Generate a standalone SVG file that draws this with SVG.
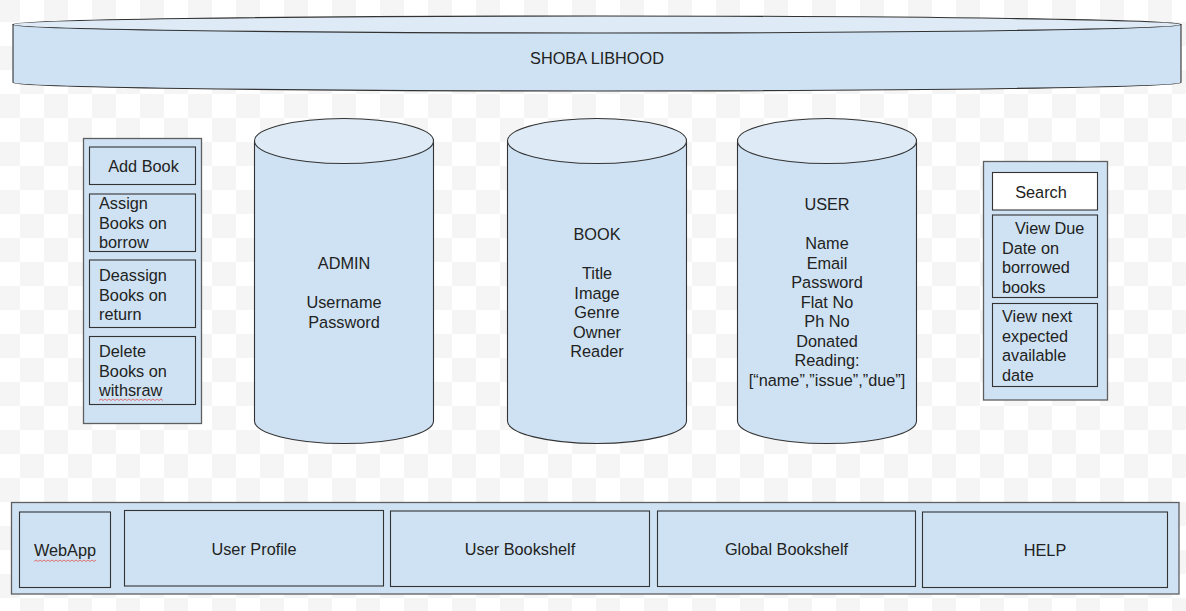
<svg xmlns="http://www.w3.org/2000/svg" width="1186" height="611" viewBox="0 0 1186 611">
<defs>
<pattern id="chk" x="-4" y="-2" width="48" height="48" patternUnits="userSpaceOnUse">
<rect width="48" height="48" fill="#ffffff"/>
<rect width="24" height="24" fill="#f5f5f5"/>
<rect x="24" y="24" width="24" height="24" fill="#f5f5f5"/>
</pattern>
</defs>
<style>
.body{fill:#cfe2f3;stroke:#333;stroke-width:1.1}
.top{fill:#deebf7;stroke:#333;stroke-width:1.1}
.panel{fill:#cfe2f3;stroke:#5f5f5f;stroke-width:1.3}
.box{fill:#cfe2f3;stroke:#333;stroke-width:1.1}
.wbox{fill:#ffffff;stroke:#333;stroke-width:1.1}
text{font-family:"Liberation Sans",Arial,sans-serif;font-size:16.3px;fill:#222}
.c{text-anchor:middle}
.sq{fill:none;stroke:#e06666;stroke-width:0.9}
</style>
<rect width="1186" height="611" fill="url(#chk)"/>

<g id="title">
<path class="body" d="M13 24.5 L13 82.5 A584 8.5 0 0 0 1181 82.5 L1181 24.5 Z"/>
<ellipse class="top" cx="597" cy="24.5" rx="584" ry="8.5"/>
<text class="c" x="597" y="64">SHOBA LIBHOOD</text>
</g>

<g id="admin-panel">
<rect class="panel" x="83.5" y="138.5" width="118" height="285"/>
<rect class="box" x="89.5" y="147" width="106" height="37.5"/>
<text class="c" x="143.5" y="172">Add Book</text>
<rect class="box" x="89.5" y="194" width="106" height="57.5"/>
<text x="99" y="209">Assign</text>
<text x="99" y="228.5">Books on</text>
<text x="99" y="248">borrow</text>
<rect class="box" x="89.5" y="260" width="106" height="67.5"/>
<text x="99" y="281">Deassign</text>
<text x="99" y="300.5">Books on</text>
<text x="99" y="320">return</text>
<rect class="box" x="89.5" y="336.5" width="106" height="68"/>
<text x="99" y="357">Delete</text>
<text x="99" y="376.5">Books on</text>
<text x="99" y="396">withsraw</text>
<path class="sq" d="M99 400.5 l2 -1.5 l2 1.5 l2 -1.5 l2 1.5 l2 -1.5 l2 1.5 l2 -1.5 l2 1.5 l2 -1.5 l2 1.5 l2 -1.5 l2 1.5 l2 -1.5 l2 1.5 l2 -1.5 l2 1.5 l2 -1.5 l2 1.5 l2 -1.5 l2 1.5 l2 -1.5 l2 1.5 l2 -1.5 l2 1.5 l2 -1.5 l2 1.5 l2 -1.5 l2 1.5 l2 -1.5 l2 1.5 l2 -1.5 l2 1.5"/>
</g>

<g id="admin">
<path class="body" d="M254.5 141 L254.5 421 A89.5 22.5 0 0 0 433.5 421 L433.5 141 Z"/>
<ellipse class="top" cx="344" cy="141" rx="89.5" ry="22.5"/>
<text class="c" x="344" y="269">ADMIN</text>
<text class="c" x="344" y="308">Username</text>
<text class="c" x="344" y="327.5">Password</text>
</g>

<g id="book">
<path class="body" d="M507.5 141 L507.5 421 A89.5 22.5 0 0 0 686.5 421 L686.5 141 Z"/>
<ellipse class="top" cx="597" cy="141" rx="89.5" ry="22.5"/>
<text class="c" x="597" y="240">BOOK</text>
<text class="c" x="597" y="279">Title</text>
<text class="c" x="597" y="298.5">Image</text>
<text class="c" x="597" y="318">Genre</text>
<text class="c" x="597" y="337.5">Owner</text>
<text class="c" x="597" y="357">Reader</text>
</g>

<g id="user">
<path class="body" d="M737.5 141 L737.5 421 A89.5 22.5 0 0 0 916.5 421 L916.5 141 Z"/>
<ellipse class="top" cx="827" cy="141" rx="89.5" ry="22.5"/>
<text class="c" x="827" y="210">USER</text>
<text class="c" x="827" y="249">Name</text>
<text class="c" x="827" y="268.5">Email</text>
<text class="c" x="827" y="288">Password</text>
<text class="c" x="827" y="307.5">Flat No</text>
<text class="c" x="827" y="327">Ph No</text>
<text class="c" x="827" y="346.5">Donated</text>
<text class="c" x="827" y="366">Reading:</text>
<text class="c" x="827" y="385.5">[“name”,”issue”,”due”]</text>
</g>

<g id="user-panel">
<rect class="panel" x="983.5" y="161.5" width="124" height="238.5"/>
<rect class="wbox" x="992.5" y="172.5" width="105" height="37.5"/>
<text class="c" x="1041" y="198">Search</text>
<rect class="box" x="992.5" y="215" width="105" height="82.5"/>
<text x="1015" y="234">View Due</text>
<text x="1002" y="253.5">Date on</text>
<text x="1002" y="273">borrowed</text>
<text x="1002" y="292.5">books</text>
<rect class="box" x="992.5" y="303.5" width="105" height="83"/>
<text x="1002" y="322">View next</text>
<text x="1002" y="341.5">expected</text>
<text x="1002" y="361">available</text>
<text x="1002" y="380.5">date</text>
</g>

<g id="nav-bar">
<rect class="panel" x="11.5" y="502.5" width="1167.5" height="91.5"/>
</g>
<g id="webapp">
<rect class="box" x="19.5" y="512" width="91" height="75.5"/>
<text class="c" x="65" y="556">WebApp</text>
<path class="sq" d="M34 561.5 l2 -1.5 l2 1.5 l2 -1.5 l2 1.5 l2 -1.5 l2 1.5 l2 -1.5 l2 1.5 l2 -1.5 l2 1.5 l2 -1.5 l2 1.5 l2 -1.5 l2 1.5 l2 -1.5 l2 1.5 l2 -1.5 l2 1.5 l2 -1.5 l2 1.5 l2 -1.5 l2 1.5 l2 -1.5 l2 1.5 l2 -1.5 l2 1.5 l2 -1.5 l2 1.5 l2 -1.5 l2 1.5 l2 -1.5"/>
</g>
<g id="user-profile">
<rect class="box" x="124.5" y="510.5" width="259" height="75.5"/>
<text class="c" x="254" y="555">User Profile</text>
</g>
<g id="user-bookshelf">
<rect class="box" x="390.5" y="511" width="259" height="75.5"/>
<text class="c" x="520" y="555">User Bookshelf</text>
</g>
<g id="global-bookshelf">
<rect class="box" x="657.5" y="511" width="258" height="75.5"/>
<text class="c" x="786.5" y="555">Global Bookshelf</text>
</g>
<g id="help">
<rect class="box" x="922.5" y="512" width="245" height="75.5"/>
<text class="c" x="1045" y="556">HELP</text>
</g>
<g id="connectors"/>
</svg>
